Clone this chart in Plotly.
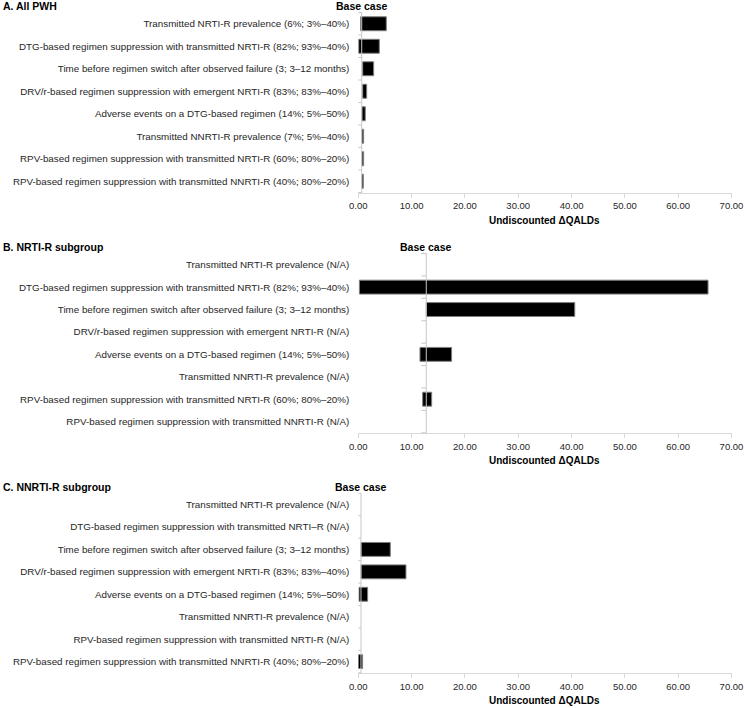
import plotly.graph_objects as go

# parameter labels per panel
labels_a = [
    "Transmitted NRTI-R prevalence (6%; 3%–40%)",
    "DTG-based regimen suppression with transmitted NRTI-R (82%; 93%–40%)",
    "Time before regimen switch after observed failure (3; 3–12 months)",
    "DRV/r-based regimen suppression with emergent NRTI-R (83%; 83%–40%)",
    "Adverse events on a DTG-based regimen (14%; 5%–50%)",
    "Transmitted NNRTI-R prevalence (7%; 5%–40%)",
    "RPV-based regimen suppression with transmitted NRTI-R (60%; 80%–20%)",
    "RPV-based regimen suppression with transmitted NNRTI-R (40%; 80%–20%)",
]
labels_b = [
    "Transmitted NRTI-R prevalence (N/A)",
    "DTG-based regimen suppression with transmitted NRTI-R (82%; 93%–40%)",
    "Time before regimen switch after observed failure (3; 3–12 months)",
    "DRV/r-based regimen suppression with emergent NRTI-R (N/A)",
    "Adverse events on a DTG-based regimen (14%; 5%–50%)",
    "Transmitted NNRTI-R prevalence (N/A)",
    "RPV-based regimen suppression with transmitted NRTI-R (60%; 80%–20%)",
    "RPV-based regimen suppression with transmitted NNRTI-R (N/A)",
]
labels_c = [
    "Transmitted NRTI-R prevalence (N/A)",
    "DTG-based regimen suppression with transmitted NRTI–R (N/A)",
    "Time before regimen switch after observed failure (3; 3–12 months)",
    "DRV/r-based regimen suppression with emergent NRTI-R (83%; 83%–40%)",
    "Adverse events on a DTG-based regimen (14%; 5%–50%)",
    "Transmitted NNRTI-R prevalence (N/A)",
    "RPV-based regimen suppression with transmitted NRTI-R (N/A)",
    "RPV-based regimen suppression with transmitted NNRTI-R (40%; 80%–20%)",
]

# undiscounted delta QALDs, low / high end of each bar
low_a = [0.44, 0.07, 0.82, 0.82, 0.69, 0.69, 0.69, 0.69]
high_a = [5.25, 3.94, 2.88, 1.57, 1.31, 1.0, 1.0, 0.94]
base_a = 0.64

low_b = [None, 0.2, 12.75, None, 11.57, None, 12.07, None]
high_b = [None, 65.6, 40.6, None, 17.5, None, 13.76, None]
base_b = 12.75

low_c = [None, None, 0.5, 0.5, 0.13, None, None, 0.0]
high_c = [None, None, 6.0, 8.94, 1.75, None, None, 0.81]
base_c = 0.5

titles = ["A. All PWH", "B. NRTI-R subgroup", "C. NNRTI-R subgroup"]

FONT = "Liberation Sans, Arial, sans-serif"
W, H = 745, 708
# plot areas in pixels (top, bottom)
areas = [(12, 193), (253, 433.3), (492.8, 673.3)]
x_dom = [358.3 / W, 731.5 / W]

panels = [(labels_a, low_a, high_a, base_a),
          (labels_b, low_b, high_b, base_b),
          (labels_c, low_c, high_c, base_c)]

fig = go.Figure()
shapes = []
annotations = []
layout = {}

for i, (labs, lo, hi, base) in enumerate(panels):
    n = "" if i == 0 else str(i + 1)
    xa, ya = "x" + n, "y" + n
    widths = [None if (l is None or h is None) else h - l for l, h in zip(lo, hi)]
    fig.add_trace(go.Bar(
        y=labs, x=widths, base=lo, orientation="h",
        xaxis=xa, yaxis=ya,
        marker=dict(color="#000000", line=dict(color="#7f7f7f", width=1)),
        showlegend=False, hoverinfo="skip",
    ))
    top, bot = areas[i]
    layout["xaxis" + n] = dict(
        domain=x_dom, anchor=ya, range=[0, 70], dtick=10, tickformat=".2f",
        showgrid=False, zeroline=False, showline=True, linecolor="#d9d9d9",
        linewidth=1, ticks="outside", ticklen=4, tickcolor="#d9d9d9",
        tickfont=dict(family=FONT, size=9.5, color="#262626"),
        automargin=False, fixedrange=True,
    )
    layout["yaxis" + n] = dict(
        domain=[1 - bot / H, 1 - top / H], anchor=xa, type="category",
        categoryorder="array", categoryarray=labs, autorange="reversed",
        showgrid=False, zeroline=False, showline=False, ticks="",
        ticklabelstandoff=8,
        tickfont=dict(family=FONT, size=9.8, color="#262626"),
        automargin=False, fixedrange=True,
    )
    # base case line
    shapes.append(dict(type="line", xref=xa, yref=ya + " domain",
                       x0=base, x1=base, y0=0, y1=1, layer="above",
                       line=dict(color="#c8c8c8", width=1)))
    # small category ticks on the base case line
    for k in range(len(labs) + 1):
        shapes.append(dict(type="line", xref=xa, yref=ya, xsizemode="pixel",
                           xanchor=base, x0=-5, x1=0, y0=k - 0.5, y1=k - 0.5,
                           layer="above", line=dict(color="#c8c8c8", width=1)))
    annotations.append(dict(text="<b>Base case</b>", xref=xa, x=base,
                            yref=ya + " domain", y=1, yanchor="bottom",
                            xanchor="center", showarrow=False, yshift=-2,
                            font=dict(family=FONT, size=10.5, color="#000000")))
    annotations.append(dict(text="<b>" + titles[i] + "</b>", xref="paper", x=0.002,
                            yref=ya + " domain", y=1, yanchor="bottom",
                            xanchor="left", showarrow=False, yshift=-2,
                            font=dict(family=FONT, size=10.5, color="#000000")))
    annotations.append(dict(text="<b>Undiscounted ΔQALDs</b>", xref=xa + " domain",
                            x=0.5, yref=ya + " domain", y=0, yanchor="top",
                            xanchor="center", showarrow=False, yshift=-20,
                            font=dict(family=FONT, size=10, color="#000000")))

fig.update_layout(
    template="none",
    width=W, height=H,
    margin=dict(l=0, r=0, t=0, b=0, pad=0),
    paper_bgcolor="white", plot_bgcolor="white",
    bargap=0.38,
    shapes=shapes, annotations=annotations,
    **layout,
)

# drop the browser's default 8px body margin so the figure sits at the page corner
fig.write_html("out.html", config={"displayModeBar": False},
               post_script="document.body.style.margin='0';")
